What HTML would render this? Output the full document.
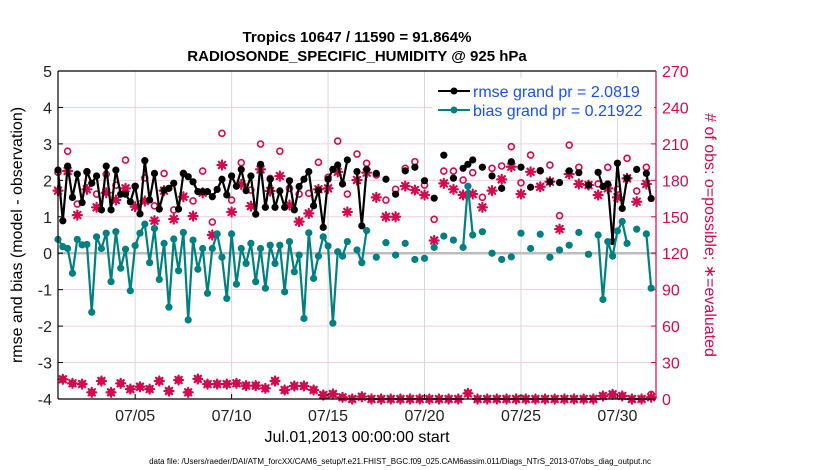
<!DOCTYPE html>
<html><head><meta charset="utf-8"><style>
body{margin:0;background:#fff}
svg{display:block;font-family:"Liberation Sans",Arial,sans-serif}
</style></head><body>
<svg id="chart" width="830" height="470" viewBox="0 0 830 470">
<text x="357" y="42" text-anchor="middle" font-size="15" font-weight="bold">Tropics 10647 / 11590 = 91.864%</text>
<text x="357" y="61" text-anchor="middle" font-size="15" font-weight="bold">RADIOSONDE_SPECIFIC_HUMIDITY @ 925 hPa</text>
<g id="grid"></g>
<g id="marks"></g>
<g id="axes"></g>
<text transform="translate(22,235) rotate(-90)" text-anchor="middle" font-size="16">rmse and bias (model - observation)</text>
<text transform="translate(705,235) rotate(90)" text-anchor="middle" font-size="16" fill="#d4094f"># of obs: o=possible; ∗=evaluated</text>
<text x="357" y="442" text-anchor="middle" font-size="16">Jul.01,2013 00:00:00 start</text>
<text x="400" y="464" text-anchor="middle" font-size="8">data file: /Users/raeder/DAI/ATM_forcXX/CAM6_setup/f.e21.FHIST_BGC.f09_025.CAM6assim.011/Diags_NTrS_2013-07/obs_diag_output.nc</text>
<g>
<rect x="432" y="78" width="222" height="40" fill="#fff"/>
<line x1="438" y1="91" x2="470" y2="91" stroke="#000" stroke-width="2"/>
<circle cx="454" cy="91" r="3.5" fill="#000"/>
<text x="473" y="97" font-size="16" fill="#1750f5">rmse grand pr = 2.0819</text>
<line x1="438" y1="110" x2="470" y2="110" stroke="#008080" stroke-width="2"/>
<circle cx="454" cy="110" r="3.5" fill="#008080"/>
<text x="473" y="116" font-size="16" fill="#1750f5">bias grand pr = 0.21922</text>
</g>
</svg>
<script>
const rmse=[2.28,0.89,2.39,1.53,2.17,1.39,2.24,1.92,2.12,1.19,
2.39,1.19,2.28,1.62,1.62,1.41,1.84,1.08,2.54,1.46,
2.19,1.21,1.73,1.78,1.92,1.21,2.19,2.10,1.96,1.69,
1.69,1.69,1.55,1.75,2.03,1.60,2.12,1.84,2.30,1.72,
2.12,1.07,2.44,1.26,2.03,1.26,1.71,1.26,1.99,1.19,
1.83,2.03,2.24,1.30,1.73,0.71,2.03,2.30,2.42,1.90,
2.56,null,2.24,0.75,2.30,null,2.19,null,2.03,null,
1.62,null,2.26,null,2.36,null,1.99,null,1.51,null,
2.69,null,2.06,null,2.33,2.44,2.56,null,2.36,null,
2.12,null,1.78,null,2.51,null,2.36,null,1.81,null,
2.26,null,1.96,null,1.94,null,2.26,null,2.21,null,
1.87,null,2.22,1.83,1.90,0.32,2.47,1.23,2.06,null,
2.30,null,2.19,1.50];
const bias=[0.38,0.18,0.13,-0.55,0.38,0.23,0.24,-1.62,0.45,0.13,
0.55,-0.78,0.59,-0.41,0.11,-1.03,0.21,0.55,0.80,-0.26,
0.68,-0.72,0.27,-1.48,0.39,-0.48,0.57,-1.83,0.36,-0.44,
0.13,-1.10,0.13,0.53,-0.11,-1.24,0.53,-0.85,0.13,-0.28,
0.27,-0.78,0.13,-0.96,0.22,-0.28,0.22,-1.06,0.32,-0.51,
-0.05,-1.79,0.56,-0.69,-0.08,0.45,0.20,-1.92,0.04,-0.08,
0.32,null,0.09,-0.26,0.62,null,-0.11,null,0.29,null,
-0.05,null,0.27,null,-0.17,null,-0.14,null,0.16,null,
0.47,null,0.36,null,0.16,1.84,0.50,null,0.59,null,
0.00,null,-0.17,null,-0.10,null,0.55,null,0.13,null,
0.52,null,-0.11,null,0.09,null,0.22,null,0.57,null,
-0.03,null,0.50,-1.27,0.32,-0.08,0.61,0.87,0.27,null,
0.66,null,0.53,-0.96];
const possibleMain=[186.6,204,160.5,187,168.7,185,176,196.7,175,182,159,185.7,155.6,185.7,163,187.6,145.7,218.7,163.8,194.5,172,209.9,181.6,204,173.4,168.7,169.3,194.8,182.5,212.3,168.7,201.6,194,184.4,163.8,172.6,189.9,195.3,176.1,147.9,187.6,187.6,180.2,186.3,166,189.9,191.8,207.7,178,200.8,187.9,192.6,150.9,209,190.7,176.1,177,190.7,172.6,198.1,171.2,190.7];
const evaluatedMain=[171.5,187.7,151.4,172.6,157.8,169.8,163.8,173.4,158.3,163,146.8,171.5,148.1,166.5,150.6,169.8,135,192.6,154,176.7,158.8,189,171.2,183.5,159.7,146,152.8,172.6,173.4,187,154,180.2,186.3,166,150,150,175.3,172,167.9,130.5,177.5,172.6,167.9,168.7,157.8,171.5,180.8,191.2,168.7,187,174.7,178.9,139.9,185.2,177,176.1,167.9,173.4,166,181.6,162.4,177];
const possibleOff=[16.2,12.9,12.3,5.5,14.8,5.5,12.9,8.2,10.1,8.2,14.8,6.6,15.6,5.5,16.5,12.3,12.3,12.3,12.9,11,11,8.8,14.8,7.4,10.7,10.7,7.4,3.3,4.1,1.4,0,1.9,0,0,0,0,0,0,0,0,0,0,4.7,0,0,0,0,0,0,0,0,0,0,0,0,0,2.5,3.8,2.5,0,0,3.8];
const evaluatedOff=[16.2,12.9,12.3,5.5,14.8,5.5,12.9,8.2,10.1,8.2,14.8,6.6,15.6,5.5,16.5,12.3,12.3,12.3,12.9,11,11,8.8,14.8,7.4,10.7,10.7,7.4,3.3,4.1,1.4,0,1.9,0,0,0,0,0,0,0,0,0,0,4.7,0,0,0,0,0,0,0,0,0,0,0,0,0,2.5,3.8,2.5,0,0,1.5];
const leftTicks=[5,4,3,2,1,0,-1,-2,-3,-4];
const rightTicks=[0,30,60,90,120,150,180,210,240,270];
const dateTickDays=[4,9,14,19,24,29];
const dateTickLabels=["07/05","07/10","07/15","07/20","07/25","07/30"];
const stepDays=0.25;

const NS="http://www.w3.org/2000/svg";
const X0=58,X1=656,Y0=71,Y1=399,D0=0,D1=31;
const xs=d=>X0+(d-D0)/(D1-D0)*(X1-X0);
const yL=v=>Y1-(v-(-4))/9*(Y1-Y0);
const yR=c=>Y1-c/270*(Y1-Y0);
const RED="#d4094f";
function mk(tag,attrs,parent){const e=document.createElementNS(NS,tag);for(const k in attrs)e.setAttribute(k,attrs[k]);parent.appendChild(e);return e;}
const grid=document.getElementById('grid'),marks=document.getElementById('marks'),axes=document.getElementById('axes');

leftTicks.forEach(v=>{
  const y=yL(v);
  if(v!==5&&v!==-4&&v!==0){const g=mk('line',{x1:X0,x2:X1,y1:y,y2:y,stroke:'#f4cfdc','stroke-width':1},grid);
  
  }
  const t=mk('line',{x1:X0,x2:X0+5,y1:y,y2:y,stroke:'#000','stroke-width':1},axes);
  
  
  const l=mk('text',{x:X0-6,y:y+6,'text-anchor':'end','font-size':16,fill:'#222'},axes);
  l.textContent=v;
  
  
});
rightTicks.forEach(c=>{
  const y=yR(c);
  const t=mk('line',{x1:X1-5,x2:X1,y1:y,y2:y,stroke:RED,'stroke-width':1},axes);
  
  
  const l=mk('text',{x:X1+6,y:y+6,'font-size':16,fill:RED},axes);
  l.textContent=c;
  
  
});
dateTickDays.forEach((d,i)=>{
  const x=xs(d);
  const g=mk('line',{x1:x,x2:x,y1:Y0,y2:Y1,stroke:'#d8d8d8','stroke-width':1},grid);
  
  
  const t=mk('line',{x1:x,x2:x,y1:Y1,y2:Y1-5,stroke:'#000','stroke-width':1},axes);
  
  
  const l=mk('text',{x:x,y:Y1+22,'text-anchor':'middle','font-size':16,fill:'#222'},axes);
  l.textContent=dateTickLabels[i];
  
  
});
const zl=mk('line',{x1:X0,x2:X1,y1:yL(0),y2:yL(0),stroke:'#bdbdbd','stroke-width':2.5},grid);


// frame
const fr=[[X0,Y0,X1,Y0,'#000'],[X0,Y1,X1,Y1,'#000'],[X0,Y0,X0,Y1,'#000'],[X1,Y0,X1,Y1,RED]];
fr.forEach(f=>{const a=mk('line',{x1:f[0],y1:f[1],x2:f[2],y2:f[3],stroke:f[4],'stroke-width':1.2},axes);

});

function star(cx,cy,name){
  const g=mk('g',{stroke:RED,'stroke-width':2.2,'stroke-linecap':'round'},marks);
  
  
  const r=4.5;
  for(let k=0;k<4;k++){const a=k*Math.PI/4;mk('line',{x1:cx-r*Math.cos(a),y1:cy-r*Math.sin(a),x2:cx+r*Math.cos(a),y2:cy+r*Math.sin(a)},g);}
}
function series(vals,color,name){
  let seg=[];
  const segs=[];
  vals.forEach((v,i)=>{if(v===null){if(seg.length)segs.push(seg);seg=[];}else seg.push([xs(i*stepDays),yL(v)]);});
  if(seg.length)segs.push(seg);
  segs.forEach(s=>{if(s.length>1){const p=mk('polyline',{points:s.map(q=>q.join(',')).join(' '),fill:'none',stroke:color,'stroke-width':2.2},marks);
    
    }});
  vals.forEach((v,i)=>{if(v===null)return;const c=mk('circle',{cx:xs(i*stepDays),cy:yL(v),r:3.6,fill:color},marks);
    
    });
}
// counts
const n=rmse.length;
for(let i=0;i<n;i++){
  const half=Math.floor(i/2);
  const pos=(i%2===0)?possibleMain[half]:possibleOff[half];
  const ev=(i%2===0)?evaluatedMain[half]:evaluatedOff[half];
  const x=xs(i*stepDays);
  star(x,yR(ev),'evaluated-count-marker');
  const c=mk('circle',{cx:x,cy:yR(pos),r:3,fill:'none',stroke:RED,'stroke-width':1.6},marks);
  
  
}
series(rmse,'#000','rmse');
series(bias,'#008080','bias');
</script>
</body></html>
